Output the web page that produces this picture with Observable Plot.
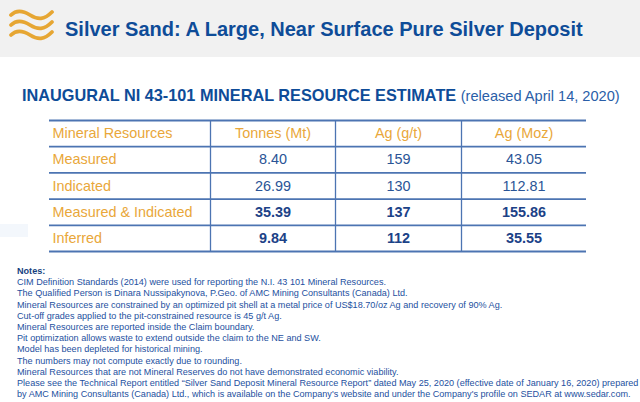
<!DOCTYPE html>
<html>
<head>
<meta charset="utf-8">
<script src="https://cdn.jsdelivr.net/npm/d3@7"></script>
<script src="https://cdn.jsdelivr.net/npm/@observablehq/plot@0.6"></script>
<style>
  html, body { margin: 0; padding: 0; background: #ffffff; }
  body { width: 640px; height: 402px; position: relative; overflow: hidden; font-family: "Liberation Sans", Arial, sans-serif; }
  #header { position: absolute; left: 0; top: 0; width: 640px; height: 57px; background: #f1f1f1; }
  #logo { position: absolute; left: 8px; top: 8px; }
  #title { position: absolute; left: 65px; top: 19px; font-size: 20px; font-weight: bold; color: #0e4c98; white-space: nowrap; line-height: 20px; }
  #subtitle { position: absolute; left: 22px; top: 86px; white-space: nowrap; color: #0e4c98; line-height: 18px; }
  #subtitle b { font-size: 16.3px; }
  #subtitle span { font-size: 14.6px; color: #2a5ea8; }
  #chart { position: absolute; left: 0; top: 108px; }
  #pale { position: absolute; left: 0; top: 224px; width: 28px; height: 13px; background: #f3f7fc; }
  #notes { position: absolute; left: 17px; top: 266px; font-size: 9.1px; line-height: 11.2px; color: #1d50a0; white-space: nowrap; }
  #notes b { color: #163f80; }
</style>
</head>
<body>
<div id="header">
  <svg id="logo" width="50" height="34" viewBox="0 0 50 34">
    <g fill="none" stroke="#e6a633" stroke-width="3.8" stroke-linecap="round">
      <path d="M3,7 C8,2 14,2 22,7 S36,12 44,4"/>
      <path d="M3,17 C8,12 14,12 22,17 S36,22 44,14"/>
      <path d="M3,27 C8,22 14,22 22,27 S36,32 44,24"/>
    </g>
  </svg>
  <div id="title">Silver Sand: A Large, Near Surface Pure Silver Deposit</div>
</div>
<div id="subtitle"><b>INAUGURAL NI 43-101 MINERAL RESOURCE ESTIMATE</b> <span>(released April 14, 2020)</span></div>
<div id="pale"></div>
<div id="chart"></div>
<div id="notes"><b>Notes:</b><br>
CIM Definition Standards (2014) were used for reporting the N.I. 43 101 Mineral Resources.<br>
The Qualified Person is Dinara Nussipakynova, P.Geo. of AMC Mining Consultants (Canada) Ltd.<br>
Mineral Resources are constrained by an optimized pit shell at a metal price of US$18.70/oz Ag and recovery of 90% Ag.<br>
Cut-off grades applied to the pit-constrained resource is 45 g/t Ag.<br>
Mineral Resources are reported inside the Claim boundary.<br>
Pit optimization allows waste to extend outside the claim to the NE and SW.<br>
Model has been depleted for historical mining.<br>
The numbers may not compute exactly due to rounding.<br>
Mineral Resources that are not Mineral Reserves do not have demonstrated economic viability.<br>
Please see the Technical Report entitled “Silver Sand Deposit Mineral Resource Report” dated May 25, 2020 (effective date of January 16, 2020) prepared<br>
by AMC Mining Consultants (Canada) Ltd., which is available on the Company's website and under the Company's profile on SEDAR at www.sedar.com.
</div>
<script>
// ---- data ----
const columns = ["Mineral Resources", "Tonnes (Mt)", "Ag (g/t)", "Ag (Moz)"];
const categories = ["Measured", "Indicated", "Measured & Indicated", "Inferred"];
const tonnes = [8.40, 26.99, 35.39, 9.84];
const grade = [159, 130, 137, 112];
const silver = [43.05, 112.81, 155.86, 35.55];
const boldRows = ["Measured & Indicated", "Inferred"];

// ---- layout (not data) ----
const colWidths = [161, 125, 126, 125];
const colEdges = [0];
colWidths.forEach(w => colEdges.push(colEdges[colEdges.length - 1] + w));
const totalW = colEdges[colEdges.length - 1];
const nRows = categories.length + 1;

const gold = "#e9a73a";
const lineColor = "#4c74b2";
const numColor = "#2a5496";
const boldColor = "#1c4287";

// cells
const cells = [];
columns.forEach((c, j) => cells.push({row: 0, col: j, text: c, kind: j === 0 ? "cat" : "head"}));
categories.forEach((cat, i) => {
  const bold = boldRows.includes(cat);
  cells.push({row: i + 1, col: 0, text: cat, kind: "cat"});
  cells.push({row: i + 1, col: 1, text: tonnes[i].toFixed(2), kind: bold ? "bold" : "num"});
  cells.push({row: i + 1, col: 2, text: String(grade[i]), kind: bold ? "bold" : "num"});
  cells.push({row: i + 1, col: 3, text: silver[i].toFixed(2), kind: bold ? "bold" : "num"});
});
const cx = d => d.col === 0 ? colEdges[0] + 3 : (colEdges[d.col] + colEdges[d.col + 1]) / 2;
const cy = d => d.row + 0.5;

const font = "Liberation Sans, Arial, sans-serif";
const plot = Plot.plot({
  width: 640,
  height: 150,
  marginLeft: 49,
  marginRight: 54,
  marginTop: 12,
  marginBottom: 7,
  x: {domain: [0, totalW], axis: null},
  y: {domain: [nRows, 0], axis: null},
  style: {fontFamily: font, background: "transparent"},
  marks: [
    Plot.ruleX(colEdges.slice(1, -1), {x: d => d, y1: 0, y2: nRows, stroke: lineColor, strokeWidth: 1.3}),
    Plot.ruleY(d3.range(nRows + 1), {y: d => d, x1: 0, x2: totalW, stroke: lineColor, strokeWidth: 1.8}),
    Plot.text(cells.filter(d => d.kind === "cat"), {
      x: cx, y: cy, text: "text", fill: gold, fontSize: 14.4, textAnchor: "start"
    }),
    Plot.text(cells.filter(d => d.kind === "head"), {
      x: cx, y: cy, text: "text", fill: gold, fontSize: 14.4, textAnchor: "middle"
    }),
    Plot.text(cells.filter(d => d.kind === "num"), {
      x: cx, y: cy, text: "text", fill: numColor, fontSize: 14.4
    }),
    Plot.text(cells.filter(d => d.kind === "bold"), {
      x: cx, y: cy, text: "text", fill: boldColor, fontSize: 14.4, fontWeight: "bold"
    })
  ]
});
document.getElementById("chart").appendChild(plot);
</script>
</body>
</html>
